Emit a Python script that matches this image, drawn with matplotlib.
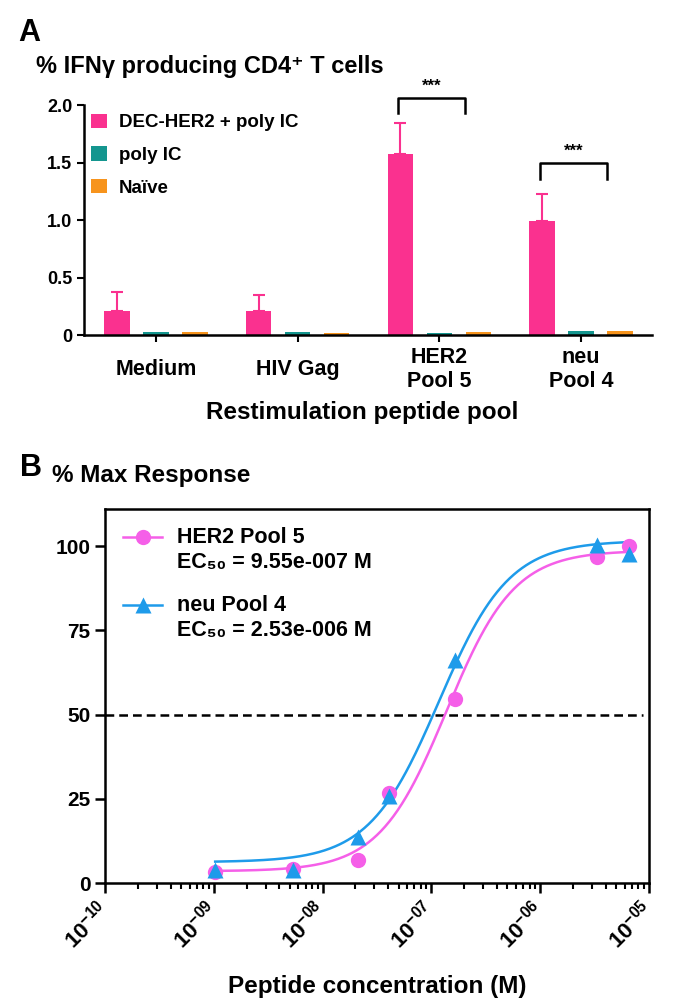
import numpy as np
import matplotlib
matplotlib.use("Agg")
import matplotlib.pyplot as plt
from matplotlib.ticker import LogLocator, FixedLocator

plt.rcParams["font.family"] = ["Liberation Sans", "DejaVu Sans"]
plt.rcParams["font.weight"] = "bold"
plt.rcParams["mathtext.fontset"] = "custom"
plt.rcParams["mathtext.rm"] = "Liberation Sans:bold"
plt.rcParams["mathtext.bf"] = "Liberation Sans:bold"
plt.rcParams["mathtext.it"] = "Liberation Sans:bold"

# ---- Panel A data ----
groups = ["Medium", "HIV Gag", "HER2\nPool 5", "neu\nPool 4"]
series_names = ["DEC-HER2 + poly IC", "poly IC", "Naïve"]
dec_her2 = [0.21, 0.21, 1.57, 0.99]
dec_her2_err = [0.16, 0.14, 0.27, 0.24]
poly_ic = [0.03, 0.03, 0.02, 0.035]
naive = [0.03, 0.02, 0.025, 0.035]
# significance brackets: group index, bracket top, leg bottom
sig_groups = [2, 3]
sig_top = [2.06, 1.50]
sig_leg = [1.93, 1.36]

# ---- Panel B data ----
conc = [1.03e-9, 5.3e-9, 2.1e-8, 4.1e-8, 1.65e-7, 3.3e-6, 6.5e-6]
her2_resp = [3.3, 4.2, 6.8, 26.6, 54.5, 96.8, 100.0]
neu_resp = [4.0, 3.9, 13.8, 25.8, 66.2, 100.3, 97.6]
# 4PL fit parameters: bottom, top, logEC50, hill
her2_fit = (3.5, 98.7, -6.86, 1.4)
neu_fit = (6.2, 101.6, -6.93, 1.35)
her2_label = ["HER2 Pool 5", "EC₅₀ = 9.55e-007 M"]
neu_label = ["neu Pool 4", "EC₅₀ = 2.53e-006 M"]

pink = "#FA318F"
teal = "#14968F"
orange = "#F7941D"
magenta = "#F55FE8"
blue = "#1E9BEA"

fig = plt.figure(figsize=(6.85, 10.07), dpi=100)

# ================= Panel A =================
ax = fig.add_axes([0.1226, 0.6673, 0.829, 0.2284])
x = np.arange(len(groups))
w = 0.18
off = 0.275
ax.bar(x - off, dec_her2, w, color=pink, label=series_names[0],
       yerr=[np.zeros(len(groups)), dec_her2_err], ecolor=pink,
       error_kw=dict(lw=1.5, capsize=4.5, capthick=1.5))
ax.bar(x, poly_ic, w, color=teal, label=series_names[1])
ax.bar(x + off, naive, w, color=orange, label=series_names[2])

ax.set_xlim(-0.508, 3.5)
ax.set_ylim(0, 2.0)
ax.set_yticks([0, 0.5, 1.0, 1.5, 2.0])
ax.set_yticklabels(["0", "0.5", "1.0", "1.5", "2.0"])
ax.set_xticks(x)
ax.set_xticklabels(groups, fontsize=15.5, fontweight="bold")
for lbl in ax.get_xticklabels():
    lbl.set_va("center")
ax.tick_params(axis="both", width=1.5, length=5, direction="out")
ax.tick_params(axis="y", labelsize=13)
ax.tick_params(axis="x", pad=20)
for s in ["top", "right"]:
    ax.spines[s].set_visible(False)
for s in ["left", "bottom"]:
    ax.spines[s].set_linewidth(1.8)
ax.set_xlabel("Restimulation peptide pool", fontsize=17.5, fontweight="bold")
ax.xaxis.set_label_coords(0.49, -0.285)

for g, top, leg in zip(sig_groups, sig_top, sig_leg):
    xl, xr = g - 0.29, g + 0.18
    ax.plot([xl, xl, xr, xr], [leg, top, top, leg], color="black", lw=1.8,
            clip_on=False, solid_joinstyle="round")
    ax.text((xl + xr) / 2, top + 0.035, "***", ha="center", va="bottom",
            fontsize=12, fontweight="bold", clip_on=False)

ax.legend(loc="upper left", bbox_to_anchor=(0.0, 0.995), frameon=False,
          fontsize=13.5, handlelength=0.85, handleheight=0.8,
          labelspacing=0.8, handletextpad=0.6, borderaxespad=0)

fig.text(0.027, 0.967, "A", fontsize=22, fontweight="bold", va="center")
fig.text(0.052, 0.9335, "% IFNγ producing CD4⁺ T cells", fontsize=17,
         fontweight="bold", va="center")

# ================= Panel B =================
bx = fig.add_axes([0.1533, 0.1231, 0.794, 0.3714])
xs = np.logspace(np.log10(conc[0]), np.log10(conc[-1]), 300)


def four_pl(xv, p):
    bottom, top, logec, hill = p
    return bottom + (top - bottom) / (1 + 10 ** ((logec - np.log10(xv)) * hill))


bx.axhline(50, xmin=0, xmax=0.99, color="black", lw=1.8, ls=(0, (3.5, 2)))
bx.plot(xs, four_pl(xs, her2_fit), color=magenta, lw=1.8)
bx.plot(xs, four_pl(xs, neu_fit), color=blue, lw=1.8)
bx.plot(conc, her2_resp, "o", color=magenta, ms=11, mec="none")
bx.plot(conc, neu_resp, "^", color=blue, ms=11, mec="none")

# legend drawn by hand so the marker sits on the first text line
for (lab, col, mk, y0) in [(her2_label, magenta, "o", 0.925),
                           (neu_label, blue, "^", 0.743)]:
    bx.plot([0.033, 0.105], [y0, y0], color=col, lw=1.8, transform=bx.transAxes)
    bx.plot([0.069], [y0], mk, color=col, ms=11, mec="none", transform=bx.transAxes)
    bx.text(0.132, y0, lab[0], transform=bx.transAxes, fontsize=15.5,
            fontweight="bold", va="center")
    bx.text(0.132, y0 - 0.067, lab[1], transform=bx.transAxes, fontsize=15.5,
            fontweight="bold", va="center")

bx.set_xscale("log")
bx.set_xlim(1e-10, 1e-5)
bx.set_ylim(0, 111)
bx.set_yticks([0, 25, 50, 75, 100])
bx.xaxis.set_major_locator(FixedLocator([1e-10, 1e-9, 1e-8, 1e-7, 1e-6, 1e-5]))
bx.xaxis.set_minor_locator(LogLocator(base=10, subs=np.arange(2, 10), numticks=20))
bx.set_xticklabels(["$10^{-10}$", "$10^{-09}$", "$10^{-08}$", "$10^{-07}$",
                    "$10^{-06}$", "$10^{-05}$"],
                   rotation=45, ha="right", va="center", rotation_mode="anchor")
bx.tick_params(axis="x", which="major", length=7, width=1.8, labelsize=16, pad=10)
bx.tick_params(axis="x", which="minor", length=4, width=1.5)
bx.tick_params(axis="y", length=7, width=1.8, labelsize=15)
for s in bx.spines.values():
    s.set_linewidth(1.8)
bx.set_xlabel("Peptide concentration (M)", fontsize=17.5, fontweight="bold")
bx.xaxis.set_label_coords(0.5, -0.245)

fig.text(0.029, 0.535, "B", fontsize=22, fontweight="bold", va="center")
fig.text(0.076, 0.528, "% Max Response", fontsize=17.5, fontweight="bold", va="center")

fig.savefig("out.png", dpi=100)
